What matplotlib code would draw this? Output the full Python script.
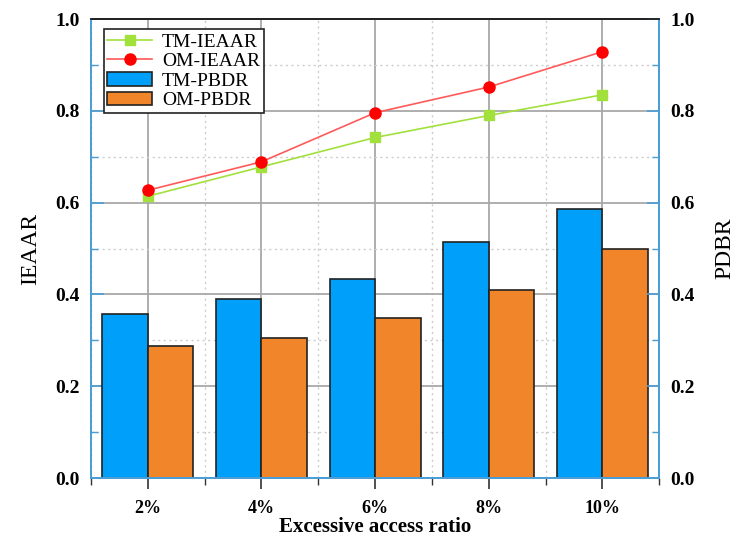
import matplotlib
matplotlib.use('Agg')
import matplotlib.pyplot as plt
import numpy as np
from matplotlib.ticker import MultipleLocator

plt.rcParams['font.family'] = ['Liberation Serif', 'DejaVu Serif']

categories = ['2%', '4%', '6%', '8%', '10%']
tm_ieaar = [0.614, 0.678, 0.742, 0.790, 0.835]
om_ieaar = [0.627, 0.689, 0.796, 0.852, 0.929]
tm_pbdr = [0.357, 0.391, 0.433, 0.515, 0.587]
om_pbdr = [0.288, 0.306, 0.349, 0.409, 0.499]

blue = '#00a0fa'
orange = '#f0852a'
green = '#a2e03c'
spine_blue = '#4a9ed6'

x = np.arange(len(categories))
width = 0.4

fig = plt.figure(figsize=(7.37, 5.38), dpi=100)
ax = fig.add_axes([0.1235, 0.1115, 0.771, 0.853])
ax2 = ax.twinx()

b1 = ax.bar(x - width/2, tm_pbdr, width, color=blue, edgecolor='#222222', linewidth=1.2, label='TM-PBDR', zorder=2)
b2 = ax.bar(x + width/2, om_pbdr, width, color=orange, edgecolor='#222222', linewidth=1.2, label='OM-PBDR', zorder=2)

l1, = ax2.plot(x, tm_ieaar, color=green, marker='s', markersize=7, linewidth=1.2, label='TM-IEAAR')
l2, = ax2.plot(x, om_ieaar, color='#ff5a5a', marker='o', markersize=8, markerfacecolor='red',
               markeredgecolor='red', linewidth=1.2, label='OM-IEAAR')

for a in (ax, ax2):
    a.set_ylim(0, 1.0)
    a.yaxis.set_major_locator(MultipleLocator(0.2))
    a.yaxis.set_minor_locator(MultipleLocator(0.1))
ax.set_xlim(-0.5, 4.5)
ax.set_xticks(x)
ax.set_xticklabels(categories)
ax.set_xticks(np.arange(-0.5, 4.6, 1.0), minor=True)

ax.set_axisbelow(True)
ax.grid(which='major', color='#a8a8a8', linewidth=1.3, linestyle='-')
ax.grid(which='minor', color='#cccccc', linewidth=1.0, linestyle=(0, (1.5, 2.5)))

for a in (ax, ax2):
    for side in ('left', 'right', 'bottom'):
        a.spines[side].set_color(spine_blue)
        a.spines[side].set_linewidth(1.3)
    a.spines['top'].set_color('#222222')
    a.spines['top'].set_linewidth(1.3)

ax.tick_params(axis='y', which='major', direction='in', length=9, width=1.2, color=spine_blue, labelsize=14, pad=8)
ax.tick_params(axis='y', which='minor', direction='in', length=5, width=1.0, color=spine_blue)
ax2.tick_params(axis='y', which='major', direction='in', length=9, width=1.2, color=spine_blue, labelsize=14, pad=8)
ax2.tick_params(axis='y', which='minor', direction='in', length=5, width=1.0, color=spine_blue)
ax.tick_params(axis='x', which='major', direction='out', length=8, width=1.2, color='#333333', labelsize=13, pad=8)
ax.tick_params(axis='x', which='minor', direction='out', length=5, width=1.0, color='#333333')

for lbl in ax.get_xticklabels() + ax.get_yticklabels() + ax2.get_yticklabels():
    lbl.set_fontweight('bold')

ax.set_ylabel('IEAAR', fontsize=17, labelpad=10)
ax2.set_ylabel('PDBR', fontsize=17, labelpad=14)
ax.set_xlabel('Excessive access ratio', fontsize=15, fontweight='bold', labelpad=0)

leg = ax2.legend([l1, l2, b1, b2], ['TM-IEAAR', 'OM-IEAAR', 'TM-PBDR', 'OM-PBDR'],
                 loc='upper left', bbox_to_anchor=(0.022, 0.978), borderaxespad=0,
                 fontsize=14, fancybox=False, framealpha=1, edgecolor='#222222',
                 labelspacing=0.1, handlelength=2.3, handletextpad=0.5, borderpad=0.2)
leg.get_frame().set_linewidth(1.2)

fig.savefig('out.png', dpi=100)
